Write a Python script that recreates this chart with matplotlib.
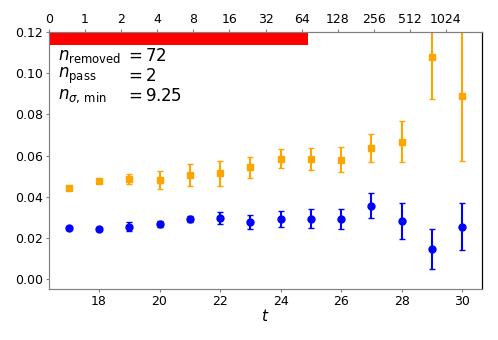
# Correlator plateau plot with removed-config bar on top axis

import numpy as np
import matplotlib.pyplot as plt

t = [17, 18, 19, 20, 21, 22, 23, 24, 25, 26, 27, 28, 29, 30]

blue_y = [0.0250, 0.0245, 0.0256, 0.0269, 0.0293, 0.0297, 0.0280,
          0.0292, 0.0295, 0.0292, 0.0357, 0.0282, 0.0149, 0.0256]
blue_err = [0.0010, 0.0010, 0.0020, 0.0016, 0.0015, 0.0029, 0.0034,
            0.0040, 0.0046, 0.0050, 0.0061, 0.0087, 0.0097, 0.0116]

orange_y = [0.0444, 0.0477, 0.0488, 0.0482, 0.0506, 0.0514, 0.0543,
            0.0585, 0.0584, 0.0581, 0.0637, 0.0668, 0.1080, 0.0890]
orange_err = [0.0010, 0.0010, 0.0025, 0.0043, 0.0054, 0.0059, 0.0051,
              0.0045, 0.0054, 0.0060, 0.0068, 0.0100, 0.0204, 0.0316]

top_ticks = [0, 1, 2, 4, 8, 16, 32, 64, 128, 256, 512, 1024]
n_removed = 72
n_pass = 2
n_sigma_min = 9.25

fig = plt.figure(figsize=(4.98, 3.4), dpi=100)
ax = fig.add_axes([0.0984, 0.15, 0.8695, 0.756])

ax.errorbar(t, orange_y, yerr=orange_err, fmt='s', color='orange',
            ms=5, capsize=2, elinewidth=1.5, capthick=1)
ax.errorbar(t, blue_y, yerr=blue_err, fmt='o', color='blue',
            ms=5, capsize=2, elinewidth=1.5, capthick=1)

ax.set_ylim(-0.0047, 0.12)
ax.set_xlim(16.35, 30.65)
ax.set_xticks([18, 20, 22, 24, 26, 28, 30])
ax.set_yticks([0.00, 0.02, 0.04, 0.06, 0.08, 0.10, 0.12])
ax.set_yticklabels(['0.00', '0.02', '0.04', '0.06', '0.08', '0.10', '0.12'])
ax.tick_params(labelsize=9, color='gray', length=2, pad=2.5)
ax.set_xlabel('$t$', fontsize=11, labelpad=0)

ax2 = ax.twiny()
ax2.set_xscale('symlog', base=2, linthresh=1, linscale=0.5)
ax2.set_xlim(0, 2048)
ax2.axvspan(0, n_removed, ymin=0.95, ymax=1.0, color='red', lw=0)
ax2.set_xticks(top_ticks)
ax2.set_xticklabels([str(v) for v in top_ticks])
ax2.xaxis.set_minor_locator(plt.NullLocator())
ax2.tick_params(labelsize=9, color='gray', length=2, pad=2.5)

for a in (ax, ax2):
    for s in ('left', 'bottom', 'top'):
        a.spines[s].set_color('gray')
    a.spines['right'].set_color('black')

labels = [r'$n_{\rm removed}$', r'$n_{\rm pass}$', r'$n_{\sigma,\,\rm min}$']
values = ['$= %d$' % n_removed, '$= %d$' % n_pass, '$= %.2f$' % n_sigma_min]
ys = [0.907, 0.829, 0.751]
for lab, val, yy in zip(labels, values, ys):
    ax.text(0.021, yy, lab, transform=ax.transAxes, fontsize=12, va='center')
    ax.text(0.176, yy, val, transform=ax.transAxes, fontsize=12, va='center')

fig.savefig('out.png', dpi=100)
